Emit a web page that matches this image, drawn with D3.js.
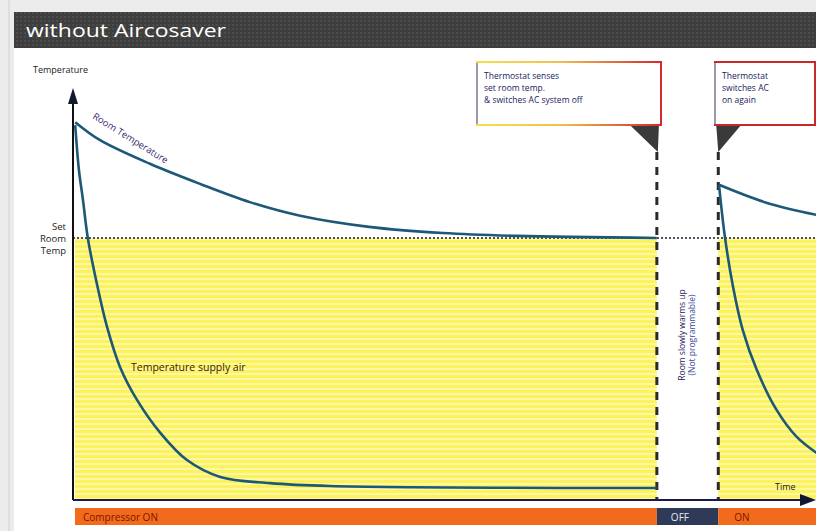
<!DOCTYPE html>
<html>
<head>
<meta charset="utf-8">
<script src="https://cdn.jsdelivr.net/npm/d3@7"></script>
<style>
  body { margin: 0; background: #ececec; }
  svg { display: block; font-family: "Open Sans", "Noto Sans", sans-serif; }
</style>
</head>
<body>
<svg id="chart"></svg>
<script>
// time runs 0..100, temperature 0..100 (arbitrary units)
const roomTemp1 = [[0.3, 91.7], [3.6, 87.4], [10.4, 81.6], [17.2, 76.7], [23.9, 72.3], [30.7, 69.0], [40.0, 66.3], [50.0, 64.8], [60.0, 64.1], [78.9, 63.6]];
const supplyAir1 = [[0.3, 91.0], [0.8, 80.1], [1.35, 72.8], [2.0, 63.6], [3.2, 52.7], [4.6, 42.0], [6.35, 32.3], [8.65, 24.3], [11.8, 16.3], [15.4, 9.7], [19.9, 5.6], [26.6, 4.1], [34.7, 3.4], [78.9, 2.9]];
const roomTemp2 = [[87.3, 76.5], [93.8, 72.1], [100.5, 69.2]];
const supplyAir2 = [[87.3, 76.5], [88.1, 63.8], [89.2, 51.7], [90.5, 41.3], [92.4, 31.6], [95.1, 21.8], [97.8, 15.3], [100.5, 11.4]];
const setRoomTemp = 63.6;
const switchOff = 78.9, switchOn = 87.2;
const compressorPhases = [
    { label: "Compressor ON", start: 0, end: switchOff },
    { label: "OFF", start: switchOff, end: switchOn },
    { label: "ON", start: switchOn, end: 100.5 }
];
const callouts = [
    { lines: ["Thermostat senses", "set room temp.", "& switches AC system off"], at: switchOff },
    { lines: ["Thermostat", "switches AC", "on again"], at: switchOn }
];

const width = 816, height = 531;
const svg = d3.select("#chart").attr("width", width).attr("height", height);

const x = d3.scaleLinear().domain([0, 100]).range([73, 813]);
const y = d3.scaleLinear().domain([0, 100]).range([500, 88]);

const defs = svg.append("defs");
const pat = defs.append("pattern").attr("id", "scan")
    .attr("width", 8).attr("height", 5).attr("patternUnits", "userSpaceOnUse");
pat.append("rect").attr("width", 8).attr("height", 5).attr("fill", "#fcf25c");
pat.append("rect").attr("y", 3).attr("width", 8).attr("height", 2).attr("fill", "#fdf8a6");

const grad = defs.append("linearGradient").attr("id", "boxGrad");
grad.append("stop").attr("offset", "0%").attr("stop-color", "#f5e04a");
grad.append("stop").attr("offset", "45%").attr("stop-color", "#f0c050");
grad.append("stop").attr("offset", "100%").attr("stop-color", "#d42a2a");

const bar = defs.append("pattern").attr("id", "titleTex")
    .attr("width", 4).attr("height", 4).attr("patternUnits", "userSpaceOnUse");
bar.append("rect").attr("width", 4).attr("height", 4).attr("fill", "#3e3e3e");
bar.append("rect").attr("width", 2).attr("height", 2).attr("fill", "#4c4c4c");

// page panel
svg.append("rect").attr("x", 14).attr("y", 12).attr("width", width - 14).attr("height", height - 12).attr("fill", "#fff");
svg.append("line").attr("x1", 9).attr("x2", 9).attr("y1", 0).attr("y2", height).attr("stroke", "#d0d0d0");
svg.append("rect").attr("x", 14).attr("y", 12).attr("width", width - 14).attr("height", 36).attr("fill", "url(#titleTex)");
svg.append("text").attr("x", 26).attr("y", 37).attr("fill", "#fff")
    .attr("font-size", 18).attr("textLength", 200).attr("lengthAdjust", "spacingAndGlyphs")
    .text("without Aircosaver");

// yellow "cooled" areas
svg.append("rect").attr("x", x(0) + 2).attr("y", y(setRoomTemp))
    .attr("width", x(switchOff) - x(0) - 2).attr("height", y(0) - y(setRoomTemp)).attr("fill", "url(#scan)");
svg.append("rect").attr("x", x(switchOn)).attr("y", y(setRoomTemp))
    .attr("width", width - x(switchOn)).attr("height", y(0) - y(setRoomTemp)).attr("fill", "url(#scan)");

// set room temp dotted line
svg.append("line").attr("x1", x(0)).attr("x2", width).attr("y1", y(setRoomTemp)).attr("y2", y(setRoomTemp))
    .attr("stroke", "#1a1a30").attr("stroke-width", 1.6).attr("stroke-dasharray", "2,2");

// dashed switch lines
[switchOff, switchOn].forEach(t => {
    svg.append("line").attr("x1", x(t)).attr("x2", x(t)).attr("y1", 152).attr("y2", y(0))
        .attr("stroke", "#2a2a2a").attr("stroke-width", 3).attr("stroke-dasharray", "8,7");
});

// curves
const line = d3.line().x(d => x(d[0])).y(d => y(d[1])).curve(d3.curveCatmullRom.alpha(0.5));
[roomTemp1, supplyAir1, roomTemp2, supplyAir2].forEach(s => {
    svg.append("path").datum(s).attr("d", line).attr("fill", "none")
        .attr("stroke", "#1d5878").attr("stroke-width", 2.6);
});

// axes
svg.append("line").attr("x1", x(0)).attr("x2", x(0)).attr("y1", 100).attr("y2", y(0))
    .attr("stroke", "#111").attr("stroke-width", 2);
svg.append("path").attr("d", `M${x(0)},88 L${x(0) - 5},104 L${x(0) + 5},104 Z`).attr("fill", "#111830");
svg.append("line").attr("x1", x(0)).attr("x2", 803).attr("y1", y(0)).attr("y2", y(0))
    .attr("stroke", "#1a1a50").attr("stroke-width", 2);
svg.append("path").attr("d", `M816,${y(0)} L800,${y(0) - 6} L800,${y(0) + 6} Z`).attr("fill", "#111830");

// compressor bar
const cb = svg.append("g");
compressorPhases.forEach((p, i) => {
    const x0 = i === 0 ? x(0) + 2 : x(p.start);
    const x1 = i === 2 ? width : x(p.end);
    cb.append("rect").attr("x", x0).attr("y", 508).attr("width", x1 - x0).attr("height", 17)
        .attr("fill", p.label === "OFF" ? "#2f3a58" : "#f26a1b");
    cb.append("text").attr("x", x0 + (i === 1 ? 14 : i === 0 ? 8 : 16)).attr("y", 521)
        .attr("font-size", 10).attr("fill", p.label === "OFF" ? "#e8e8f0" : "#7a1500")
        .text(p.label);
});

// labels
svg.append("text").attr("x", 33).attr("y", 73).attr("font-size", 9).attr("fill", "#222").text("Temperature");
["Set", "Room", "Temp"].forEach((s, i) => {
    svg.append("text").attr("x", 66).attr("y", 230 + i * 12).attr("text-anchor", "end")
        .attr("font-size", 9.5).attr("fill", "#222").text(s);
});
svg.append("text").attr("x", 775).attr("y", 490).attr("font-size", 9).attr("fill", "#222").text("Time");
svg.append("text").attr("x", 131).attr("y", 371).attr("font-size", 10.5).attr("fill", "#3a1a08")
    .text("Temperature supply air");
svg.append("text").attr("transform", "translate(92,118) rotate(32)")
    .attr("font-size", 9.5).attr("fill", "#3a2a70").text("Room Temperature");

// rotated note between the switch lines
const mid = (x(switchOff) + x(switchOn)) / 2;
["Room slowly warms up", "(Not programmable)"].forEach((s, i) => {
    svg.append("text").attr("transform", `translate(${mid - 3 + i * 10},335) rotate(-90)`)
        .attr("text-anchor", "middle").attr("font-size", 8.5)
        .attr("fill", i === 0 ? "#2a2060" : "#3a4a9a").text(s);
});

// callouts
const boxes = [
    { x0: 477, x1: 661, stroke: "url(#boxGrad)" },
    { x0: 715, x1: 815, stroke: "#c8282a" }
];
callouts.forEach((c, i) => {
    const b = boxes[i];
    svg.append("rect").attr("x", b.x0).attr("y", 62).attr("width", b.x1 - b.x0).attr("height", 63)
        .attr("fill", "#fff").attr("stroke", b.stroke).attr("stroke-width", 2);
    svg.append("line").attr("x1", b.x0).attr("x2", b.x0).attr("y1", 63).attr("y2", 124)
        .attr("stroke", "#9a9aa8").attr("stroke-width", 2);
    c.lines.forEach((s, j) => {
        svg.append("text").attr("x", b.x0 + 7).attr("y", 79 + j * 12).attr("font-size", 8.5)
            .attr("fill", "#1a1a60").text(s);
    });
    const px = x(c.at);
    const tri = i === 0
        ? `M${px - 26},126 L${px + 2},126 L${px + 1},152 Z`
        : `M${px - 2},126 L${px + 22},126 L${px},152 Z`;
    svg.append("path").attr("d", tri).attr("fill", "#3a3a3a");
});
</script>
</body>
</html>
